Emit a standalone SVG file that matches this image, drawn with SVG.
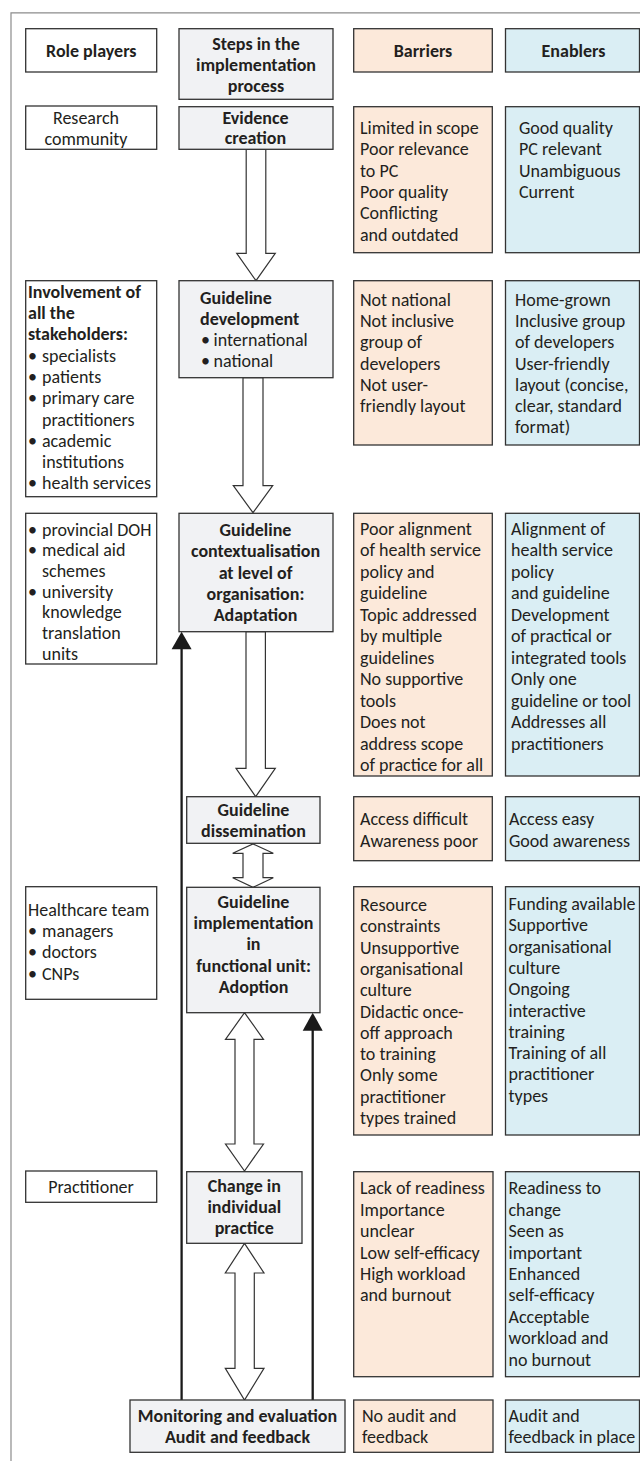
<svg xmlns="http://www.w3.org/2000/svg" width="640" height="1461" viewBox="0 0 640 1461">
<style>
text{font-family:Carlito,Lato,"Open Sans",sans-serif;font-size:18px;fill:#231f20}
.b{font-weight:bold}
.c{text-anchor:middle}
.box{fill:#fff;stroke:#333;stroke-width:1.3}
.step{fill:#f1f2f4;stroke:#333;stroke-width:1.3}
.bar{fill:#fce9da;stroke:#333;stroke-width:1.3}
.ena{fill:#daeef4;stroke:#333;stroke-width:1.3}
.hollow{fill:#fff;stroke:#333;stroke-width:1.2;stroke-linejoin:miter}
.fb{stroke:#1a1a1a;stroke-width:2.3;fill:none}
.fh{fill:#1a1a1a}
</style>
<rect width="640" height="1461" fill="#fff"/>
<path d="M11,1461 V12.8 H640" fill="none" stroke="#8c8c8c" stroke-width="1.2"/>

<g id="connectors">
<polygon class="hollow" points="246.2,149.3 265.8,149.3 265.8,253.3 275.3,253.3 256,280.7 236.7,253.3 246.2,253.3"/>
<polygon class="hollow" points="243,377.7 263,377.7 263,485.7 272.7,485.7 253,512.7 233.3,485.7 243,485.7"/>
<polygon class="hollow" points="246,631.7 265.4,631.7 265.4,768.3 275.3,768.3 255.7,796.7 236,768.3 246,768.3"/>
<polygon class="hollow" points="253,844 273.3,853.3 263,853.3 263,877.7 273.3,877.7 253,887.3 232.7,877.7 243,877.7 243,853.3 232.7,853.3"/>
<polygon class="hollow" points="244.5,1012.7 263.5,1039.3 254,1039.3 254,1144 263.5,1144 244.5,1171 225.5,1144 235,1144 235,1039.3 225.5,1039.3"/>
<polygon class="hollow" points="244.5,1243.3 264,1273 254.3,1273 254.3,1368.3 264,1368.3 244.5,1400 225.3,1368.3 235,1368.3 235,1273 225.3,1273"/>
<line class="fb" x1="181.6" y1="1400" x2="181.6" y2="648"/>
<polygon class="fh" points="171.6,649.3 191.6,649.3 181.6,631.7"/>
<line class="fb" x1="312.7" y1="1400" x2="312.7" y2="1029"/>
<polygon class="fh" points="302.7,1030.7 322.7,1030.7 312.7,1012.7"/>
</g>

<g id="h-role"><rect class="box" x="25.7" y="28.7" width="131" height="43.3"/><text class="b c" x="91.3" y="57.3">Role players</text></g>
<g id="h-steps"><rect class="step" x="179" y="28.7" width="154" height="70.6"/>
<text class="b c" x="256" y="50">Steps in the</text><text class="b c" x="256" y="71">implementation</text><text class="b c" x="256" y="92">process</text></g>
<g id="h-barriers"><rect class="bar" x="353.7" y="28.7" width="138.6" height="43.3"/><text class="b c" x="423" y="57.3">Barriers</text></g>
<g id="h-enablers"><rect class="ena" x="505.5" y="28.7" width="134" height="43.3"/><text class="b c" x="573.5" y="57.3">Enablers</text></g>

<g id="r1-role"><rect class="box" x="25.7" y="106" width="131" height="43.3"/>
<text class="c" x="86" y="123.7">Research</text><text class="c" x="86" y="144.5">community</text></g>
<g id="r1-step"><rect class="step" x="179" y="106.7" width="154" height="42.6"/>
<text class="b c" x="255.5" y="123.5">Evidence</text><text class="b c" x="255.5" y="144.3">creation</text></g>
<g id="r1-bar"><rect class="bar" x="353.7" y="106.7" width="138.6" height="146"/>
<text x="360" y="133.7">Limited in scope</text><text x="360" y="155.1">Poor relevance</text><text x="360" y="176.5">to PC</text><text x="360" y="197.9">Poor quality</text><text x="360" y="219.3">Conflicting</text><text x="360" y="240.7">and outdated</text></g>
<g id="r1-ena"><rect class="ena" x="505.5" y="106.7" width="134" height="146"/>
<text x="519" y="133.7">Good quality</text><text x="519" y="155.1">PC relevant</text><text x="519" y="176.5">Unambiguous</text><text x="519" y="197.9">Current</text></g>

<g id="r2-role"><rect class="box" x="25.7" y="280.7" width="131" height="216"/>
<text class="b" x="28" y="297.7">Involvement of</text><text class="b" x="28" y="319">all the</text><text class="b" x="28" y="340.3">stakeholders:</text>
<text y="361.6"><tspan x="28">•</tspan><tspan x="42">specialists</tspan></text>
<text y="382.9"><tspan x="28">•</tspan><tspan x="42">patients</tspan></text>
<text y="404.2"><tspan x="28">•</tspan><tspan x="42">primary care</tspan></text>
<text x="42" y="425.5">practitioners</text>
<text y="446.8"><tspan x="28">•</tspan><tspan x="42">academic</tspan></text>
<text x="42" y="468.1">institutions</text>
<text y="489.4"><tspan x="28">•</tspan><tspan x="42">health services</tspan></text></g>
<g id="r2-step"><rect class="step" x="179" y="280.7" width="154" height="97"/>
<text class="b" x="200" y="303.5">Guideline</text><text class="b" x="200" y="324.8">development</text>
<text y="346.1"><tspan x="201">•</tspan><tspan x="213.5">international</tspan></text>
<text y="367.4"><tspan x="201">•</tspan><tspan x="213.5">national</tspan></text></g>
<g id="r2-bar"><rect class="bar" x="353.7" y="280.7" width="138.6" height="164.3"/>
<text x="360" y="306">Not national</text><text x="360" y="327.2">Not inclusive</text><text x="360" y="348.4">group of</text><text x="360" y="369.6">developers</text><text x="360" y="390.8">Not user-</text><text x="360" y="412">friendly layout</text></g>
<g id="r2-ena"><rect class="ena" x="505.5" y="280.7" width="134" height="164.3"/>
<text x="515" y="306">Home-grown</text><text x="515" y="327.2">Inclusive group</text><text x="515" y="348.4">of developers</text><text x="515" y="369.6">User-friendly</text><text x="515" y="390.8">layout (concise,</text><text x="515" y="412">clear, standard</text><text x="515" y="433.2">format)</text></g>

<g id="r3-role"><rect class="box" x="25.7" y="513.3" width="131" height="150.7"/>
<text y="535.5"><tspan x="28">•</tspan><tspan x="42">provincial DOH</tspan></text>
<text y="556.2"><tspan x="28">•</tspan><tspan x="42">medical aid</tspan></text>
<text x="42" y="576.9">schemes</text>
<text y="597.6"><tspan x="28">•</tspan><tspan x="42">university</tspan></text>
<text x="42" y="618.3">knowledge</text>
<text x="42" y="639">translation</text>
<text x="42" y="659.7">units</text></g>
<g id="r3-step"><rect class="step" x="179" y="513.3" width="154" height="118.4"/>
<text class="b c" x="255.5" y="536">Guideline</text><text class="b c" x="255.5" y="557.3">contextualisation</text><text class="b c" x="255.5" y="578.6">at level of</text><text class="b c" x="255.5" y="599.9">organisation:</text><text class="b c" x="255.5" y="621.2">Adaptation</text></g>
<g id="r3-bar"><rect class="bar" x="353.7" y="513.3" width="138.6" height="262.7"/>
<text x="360" y="534.5">Poor alignment</text><text x="360" y="556">of health service</text><text x="360" y="577.5">policy and</text><text x="360" y="599">guideline</text><text x="360" y="620.5">Topic addressed</text><text x="360" y="642">by multiple</text><text x="360" y="663.5">guidelines</text><text x="360" y="685">No supportive</text><text x="360" y="706.5">tools</text><text x="360" y="728">Does not</text><text x="360" y="749.5">address scope</text><text x="360" y="771">of practice for all</text></g>
<g id="r3-ena"><rect class="ena" x="505.5" y="513.3" width="134" height="262.7"/>
<text x="511" y="534.5">Alignment of</text><text x="511" y="556">health service</text><text x="511" y="577.5">policy</text><text x="511" y="599">and guideline</text><text x="511" y="620.5">Development</text><text x="511" y="642">of practical or</text><text x="511" y="663.5">integrated tools</text><text x="511" y="685">Only one</text><text x="511" y="706.5">guideline or tool</text><text x="511" y="728">Addresses all</text><text x="511" y="749.5">practitioners</text></g>

<g id="r4-step"><rect class="step" x="186.7" y="796.7" width="133.3" height="46.6"/>
<text class="b c" x="253.5" y="816">Guideline</text><text class="b c" x="253.5" y="837">dissemination</text></g>
<g id="r4-bar"><rect class="bar" x="353.7" y="796.7" width="138.6" height="64"/>
<text x="360" y="825">Access difficult</text><text x="360" y="846.5">Awareness poor</text></g>
<g id="r4-ena"><rect class="ena" x="505.5" y="796.7" width="134" height="64"/>
<text x="509" y="825">Access easy</text><text x="509" y="846.5">Good awareness</text></g>

<g id="r5-role"><rect class="box" x="25.7" y="886.7" width="131" height="112.6"/>
<text x="28" y="916">Healthcare team</text>
<text y="937.2"><tspan x="28">•</tspan><tspan x="42">managers</tspan></text>
<text y="958.4"><tspan x="28">•</tspan><tspan x="42">doctors</tspan></text>
<text y="979.6"><tspan x="28">•</tspan><tspan x="42">CNPs</tspan></text></g>
<g id="r5-step"><rect class="step" x="186.7" y="887.3" width="133.3" height="125.4"/>
<text class="b c" x="253.5" y="907.7">Guideline</text><text class="b c" x="253.5" y="929">implementation</text><text class="b c" x="253.5" y="950.3">in</text><text class="b c" x="253.5" y="971.6">functional unit:</text><text class="b c" x="253.5" y="992.9">Adoption</text></g>
<g id="r5-bar"><rect class="bar" x="353.7" y="886.7" width="138.6" height="248.3"/>
<text x="360" y="911">Resource</text><text x="360" y="932.3">constraints</text><text x="360" y="953.6">Unsupportive</text><text x="360" y="974.9">organisational</text><text x="360" y="996.2">culture</text><text x="360" y="1017.5">Didactic once-</text><text x="360" y="1038.8">off approach</text><text x="360" y="1060.1">to training</text><text x="360" y="1081.4">Only some</text><text x="360" y="1102.7">practitioner</text><text x="360" y="1124">types trained</text></g>
<g id="r5-ena"><rect class="ena" x="505.5" y="886.7" width="134" height="248.3"/>
<text x="508.5" y="910">Funding available</text><text x="508.5" y="931.3">Supportive</text><text x="508.5" y="952.6">organisational</text><text x="508.5" y="973.9">culture</text><text x="508.5" y="995.2">Ongoing</text><text x="508.5" y="1016.5">interactive</text><text x="508.5" y="1037.8">training</text><text x="508.5" y="1059.1">Training of all</text><text x="508.5" y="1080.4">practitioner</text><text x="508.5" y="1101.7">types</text></g>

<g id="r6-role"><rect class="box" x="25.7" y="1171" width="131" height="31.3"/>
<text class="c" x="91" y="1193.3">Practitioner</text></g>
<g id="r6-step"><rect class="step" x="186.7" y="1171.7" width="115.3" height="71.6"/>
<text class="b c" x="244.3" y="1192">Change in</text><text class="b c" x="244.3" y="1213.2">individual</text><text class="b c" x="244.3" y="1234.4">practice</text></g>
<g id="r6-bar"><rect class="bar" x="353.7" y="1171.7" width="139.3" height="205"/>
<text x="360" y="1194.3">Lack of readiness</text><text x="360" y="1215.7">Importance</text><text x="360" y="1237.1">unclear</text><text x="360" y="1258.5">Low self-efficacy</text><text x="360" y="1279.9">High workload</text><text x="360" y="1301.3">and burnout</text></g>
<g id="r6-ena"><rect class="ena" x="505.5" y="1171.7" width="134" height="205"/>
<text x="508.5" y="1194.3">Readiness to</text><text x="508.5" y="1215.7">change</text><text x="508.5" y="1237.1">Seen as</text><text x="508.5" y="1258.5">important</text><text x="508.5" y="1279.9">Enhanced</text><text x="508.5" y="1301.3">self-efficacy</text><text x="508.5" y="1322.7">Acceptable</text><text x="508.5" y="1344.1">workload and</text><text x="508.5" y="1365.5">no burnout</text></g>

<g id="r7-step"><rect class="step" x="130" y="1400" width="215" height="52.3"/>
<text class="b c" x="237.5" y="1422">Monitoring and evaluation</text><text class="b c" x="237.5" y="1443">Audit and feedback</text></g>
<g id="r7-bar"><rect class="bar" x="353.7" y="1400" width="139.3" height="52.3"/>
<text x="362" y="1421.5">No audit and</text><text x="362" y="1443">feedback</text></g>
<g id="r7-ena"><rect class="ena" x="505.5" y="1400" width="134" height="52.3"/>
<text x="508.5" y="1421.5">Audit and</text><text x="508.5" y="1443">feedback in place</text></g>
</svg>
